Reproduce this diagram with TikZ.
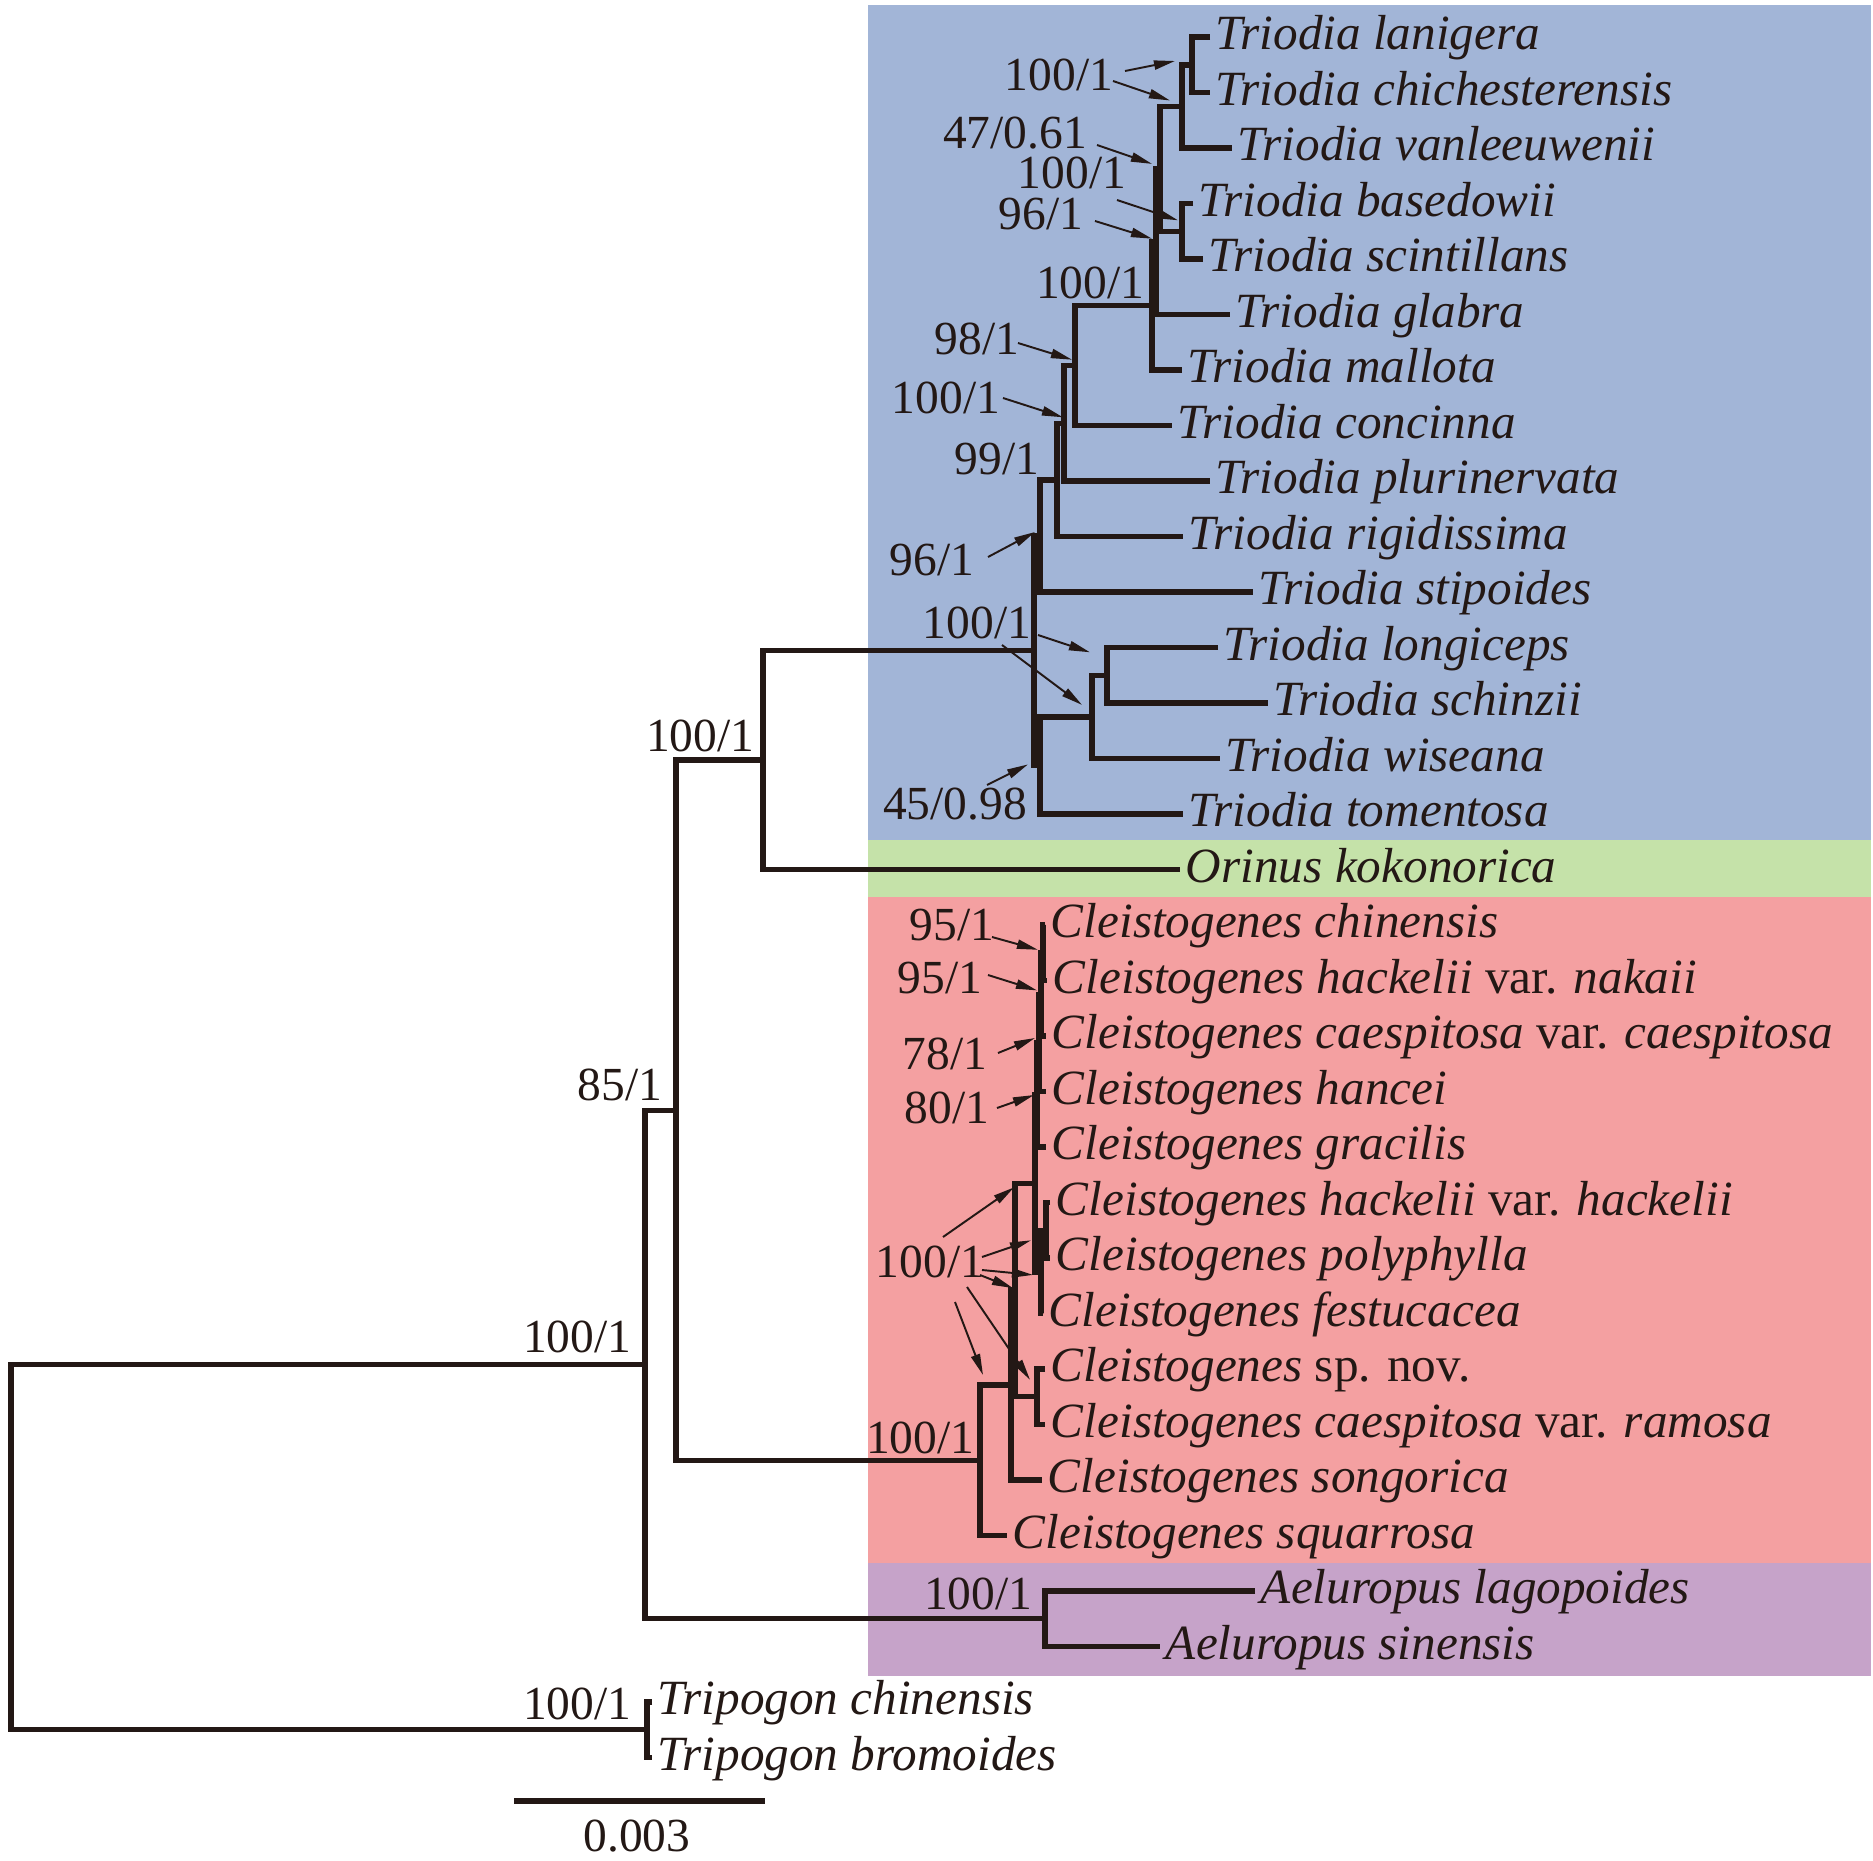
\documentclass[tikz,border=0pt]{standalone}
\usepackage{fontspec}
\setmainfont{Liberation Serif}
\usepackage{tikz}
\usetikzlibrary{arrows.meta,calc}
\definecolor{linecol}{RGB}{35,24,21}
\definecolor{triodiabg}{RGB}{162,181,215}
\definecolor{orinusbg}{RGB}{197,226,169}
\definecolor{cleistobg}{RGB}{244,160,161}
\definecolor{aelurbg}{RGB}{198,163,201}

\begin{document}
\begin{tikzpicture}[x=0.01cm,y=-0.01cm,
    branch/.style={line width=1.5pt,draw=linecol},
    taxon/.style={anchor=west,inner sep=1.5pt,text height=0.73em,text depth=0pt,
      font=\fontsize{14}{16}\selectfont\itshape,text=linecol},
    support/.style={inner sep=0pt,text height=0.66em,text depth=0pt,
      font=\fontsize{13.5}{15}\selectfont,text=linecol},
    pointer/.style={line width=0.55pt,draw=linecol,-{Triangle[length=6pt,width=2.6pt]}}]

  \useasboundingbox (0,0) rectangle (1873,1861);

  % clade backgrounds
  \fill[triodiabg] (868,5) rectangle (1871,840);
  \fill[orinusbg] (868,840) rectangle (1871,897);
  \fill[cleistobg] (868,897) rectangle (1871,1563);
  \fill[aelurbg] (868,1563) rectangle (1871,1676);

  % taxa
  \node[taxon] (lan) at (1210,37) {Triodia lanigera};
  \node[taxon] (chi) at (1210,92.5) {Triodia chichesterensis};
  \node[taxon] (van) at (1232,148) {Triodia vanleeuwenii};
  \node[taxon] (bas) at (1193,203.5) {Triodia basedowii};
  \node[taxon] (sci) at (1203,259) {Triodia scintillans};
  \node[taxon] (gla) at (1230,314.5) {Triodia glabra};
  \node[taxon] (mal) at (1182,370) {Triodia mallota};
  \node[taxon] (con) at (1172,425.5) {Triodia concinna};
  \node[taxon] (plu) at (1210,481) {Triodia plurinervata};
  \node[taxon] (rig) at (1183,536.5) {Triodia rigidissima};
  \node[taxon] (sti) at (1253,592) {Triodia stipoides};
  \node[taxon] (lon) at (1218,647.5) {Triodia longiceps};
  \node[taxon] (sch) at (1268,703) {Triodia schinzii};
  \node[taxon] (wis) at (1220,758.5) {Triodia wiseana};
  \node[taxon] (tom) at (1183,814) {Triodia tomentosa};
  \node[taxon] (ori) at (1180,869.5) {Orinus kokonorica};
  \node[taxon] (cchi) at (1045,925) {Cleistogenes chinensis};
  \node[taxon] (cnak) at (1047,980.5) {Cleistogenes hackelii \textup{var.} nakaii};
  \node[taxon] (ccae) at (1046,1036) {Cleistogenes caespitosa \textup{var.} caespitosa};
  \node[taxon] (chan) at (1046,1091.5) {Cleistogenes hancei};
  \node[taxon] (cgra) at (1046,1147) {Cleistogenes gracilis};
  \node[taxon] (chac) at (1050,1202.5) {Cleistogenes hackelii \textup{var.} hackelii};
  \node[taxon] (cpol) at (1050,1258) {Cleistogenes polyphylla};
  \node[taxon] (cfes) at (1043,1313.5) {Cleistogenes festucacea};
  \node[taxon] (cspn) at (1045,1369) {Cleistogenes \textup{sp. nov.}};
  \node[taxon] (cram) at (1045,1424.5) {Cleistogenes caespitosa \textup{var.} ramosa};
  \node[taxon] (cson) at (1042,1480) {Cleistogenes songorica};
  \node[taxon] (csqu) at (1007,1535.5) {Cleistogenes squarrosa};
  \node[taxon] (alag) at (1255,1591) {Aeluropus lagopoides};
  \node[taxon] (asin) at (1160,1646.5) {Aeluropus sinensis};
  \node[taxon] (tchi) at (652,1702) {Tripogon chinensis};
  \node[taxon] (tbro) at (652,1757.5) {Tripogon bromoides};

  % internal nodes
  \coordinate (lanchi) at (1192,65);
  \coordinate (lcv) at (1182,106.5);
  \coordinate (bassci) at (1182,231.3);
  \coordinate (nC) at (1160,168.9);
  \coordinate (nB) at (1156,241.7);
  \coordinate (nA) at (1152,305.8);
  \coordinate (nD) at (1075,365.7);
  \coordinate (nE) at (1064,423.3);
  \coordinate (nF) at (1057,479.9);
  \coordinate (nG) at (1040,536);
  \coordinate (nH) at (1107,675.3);
  \coordinate (nI) at (1092,716.9);
  \coordinate (nJ) at (1040,765.4);
  \coordinate (nK) at (1034,650.7);
  \coordinate (nTO) at (763,760.1);
  \coordinate (m1) at (1043,952.8);
  \coordinate (m2) at (1041,994.4);
  \coordinate (m3) at (1039,1043);
  \coordinate (m4) at (1037,1095);
  \coordinate (m5) at (1046,1230.3);
  \coordinate (m6) at (1041,1271.9);
  \coordinate (m7) at (1035,1183.4);
  \coordinate (m8) at (1037,1396.8);
  \coordinate (m9) at (1015,1290.1);
  \coordinate (m10) at (1011,1385);
  \coordinate (m11) at (980,1460.3);
  \coordinate (mae) at (1045,1618.8);
  \coordinate (n85) at (676,1110.2);
  \coordinate (nin) at (645,1364.5);
  \coordinate (ntr) at (647,1729.8);
  \coordinate (root) at (11,1547);

  % branches
  \draw[branch] (lan) -| (lanchi) |- (chi);
  \draw[branch] (lanchi) -| (lcv) |- (van);
  \draw[branch] (bas) -| (bassci) |- (sci);
  \draw[branch] (lcv) -| (nC) |- (bassci);
  \draw[branch] (nC) -| (nB) |- (gla);
  \draw[branch] (nB) -| (nA) |- (mal);
  \draw[branch] (nA) -| (nD) |- (con);
  \draw[branch] (nD) -| (nE) |- (plu);
  \draw[branch] (nE) -| (nF) |- (rig);
  \draw[branch] (nF) -| (nG) |- (sti);
  \draw[branch] (lon) -| (nH) |- (sch);
  \draw[branch] (nH) -| (nI) |- (wis);
  \draw[branch] (nI) -| (nJ) |- (tom);
  \draw[branch] (nG) -| (nK) |- (nJ);
  \draw[branch] (nK) -| (nTO) |- (ori);
  \draw[branch] (cchi) -| (m1) |- (cnak);
  \draw[branch] (m1) -| (m2) |- (ccae);
  \draw[branch] (m2) -| (m3) |- (chan);
  \draw[branch] (m3) -| (m4) |- (cgra);
  \draw[branch] (chac) -| (m5) |- (cpol);
  \draw[branch] (m5) -| (m6) |- (cfes);
  \draw[branch] (m4) -| (m7) |- (m6);
  \draw[branch] (cspn) -| (m8) |- (cram);
  \draw[branch] (m7) -| (m9) |- (m8);
  \draw[branch] (m9) -| (m10) |- (cson);
  \draw[branch] (m10) -| (m11) |- (csqu);
  \draw[branch] (alag) -| (mae) |- (asin);
  \draw[branch] (nTO) -| (n85) |- (m11);
  \draw[branch] (n85) -| (nin) |- (mae);
  \draw[branch] (tchi) -| (ntr) |- (tbro);
  \draw[branch] (nin) -| (root) |- (ntr);

  % support values
  \node[support] (s1) at (1059,79) {100/1};
  \node[support] (s2) at (1015,137) {47/0.61};
  \node[support] (s3) at (1072,177) {100/1};
  \node[support] (s4) at (1041,218) {96/1};
  \node[support,anchor=base east] (s5) at ($(nA)+(-7,-7)$) {100/1};
  \node[support] (s6) at (977,343) {98/1};
  \node[support] (s7) at (946,402) {100/1};
  \node[support,anchor=base east] (s8) at ($(nF)+(-17,-5)$) {99/1};
  \node[support] (s9) at (932,564) {96/1};
  \node[support] (s10) at (977,627) {100/1};
  \node[support] (s11) at (955,808) {45/0.98};
  \node[support] (s12) at (952,929) {95/1};
  \node[support] (s13) at (940,982) {95/1};
  \node[support] (s14) at (945,1058) {78/1};
  \node[support] (s15) at (947,1112) {80/1};
  \node[support] (s16) at (930,1266) {100/1};
  \node[support,anchor=base east] (s17) at ($(m11)+(-5,-7)$) {100/1};
  \node[support,anchor=base east] (s18) at ($(nTO)+(-8,-9)$) {100/1};
  \node[support,anchor=base east] (s19) at ($(n85)+(-13,-10)$) {85/1};
  \node[support,anchor=base east] (s20) at ($(nin)+(-13,-12)$) {100/1};
  \node[support,anchor=base east] (s21) at ($(mae)+(-12,-9)$) {100/1};
  \node[support,anchor=base east] (s22) at ($(ntr)+(-15,-10)$) {100/1};

  \draw[pointer] ($(s1)+(66,-8)$) -- ($(lanchi)+(-17,-4)$);
  \draw[pointer] ($(s1)+(54,2)$) -- ($(lcv)+(-12,-6)$);
  \draw[pointer] ($(s2)+(82,8)$) -- ($(nC)+(-8,-5)$);
  \draw[pointer] ($(s3)+(45,23)$) -- ($(bassci)+(-4,-11)$);
  \draw[pointer] ($(s4)+(54,3)$) -- ($(nB)+(-4,-3)$);
  \draw[pointer] ($(s6)+(41,0)$) -- ($(nD)+(-3,-6)$);
  \draw[pointer] ($(s7)+(57,-4)$) -- ($(nE)+(-1,-6)$);
  \draw[pointer] ($(s9)+(56,-7)$) -- ($(nG)+(-5,-4)$);
  \draw[pointer] ($(s10)+(61,8)$) -- ($(nH)+(-17,-23)$);
  \draw[pointer] ($(s10)+(25,18)$) -- ($(nI)+(-10,-12)$);
  \draw[pointer] ($(s11)+(32,-23)$) -- ($(nJ)+(-12,-1)$);
  \draw[pointer] ($(s12)+(40,8)$) -- ($(m1)+(-5,-3)$);
  \draw[pointer] ($(s13)+(48,-7)$) -- ($(m2)+(-4,-4)$);
  \draw[pointer] ($(s14)+(53,-5)$) -- ($(m3)+(-4,-5)$);
  \draw[pointer] ($(s15)+(50,-4)$) -- ($(m4)+(-3,0)$);
  \draw[pointer] ($(s16)+(13,-29)$) -- ($(m7)+(-21,4)$);
  \draw[pointer] ($(s16)+(52,-9)$) -- ($(m5)+(-15,10)$);
  \draw[pointer] ($(s16)+(52,4)$) -- ($(m6)+(-8,3)$);
  \draw[pointer] ($(s16)+(50,9)$) -- ($(m9)+(-2,-2)$);
  \draw[pointer] ($(s16)+(37,21)$) -- ($(m8)+(-7,-17)$);
  \draw[pointer] ($(s16)+(25,36)$) -- ($(m10)+(-28,-10)$);

  % scale bar
  \coordinate (bar0) at (514,1801);
  \coordinate (bar1) at (765,1801);
  \draw[branch] (bar0) -- (bar1);
  \node[support] (barlab) at (637,1840) {0.003};
\end{tikzpicture}
\end{document}
